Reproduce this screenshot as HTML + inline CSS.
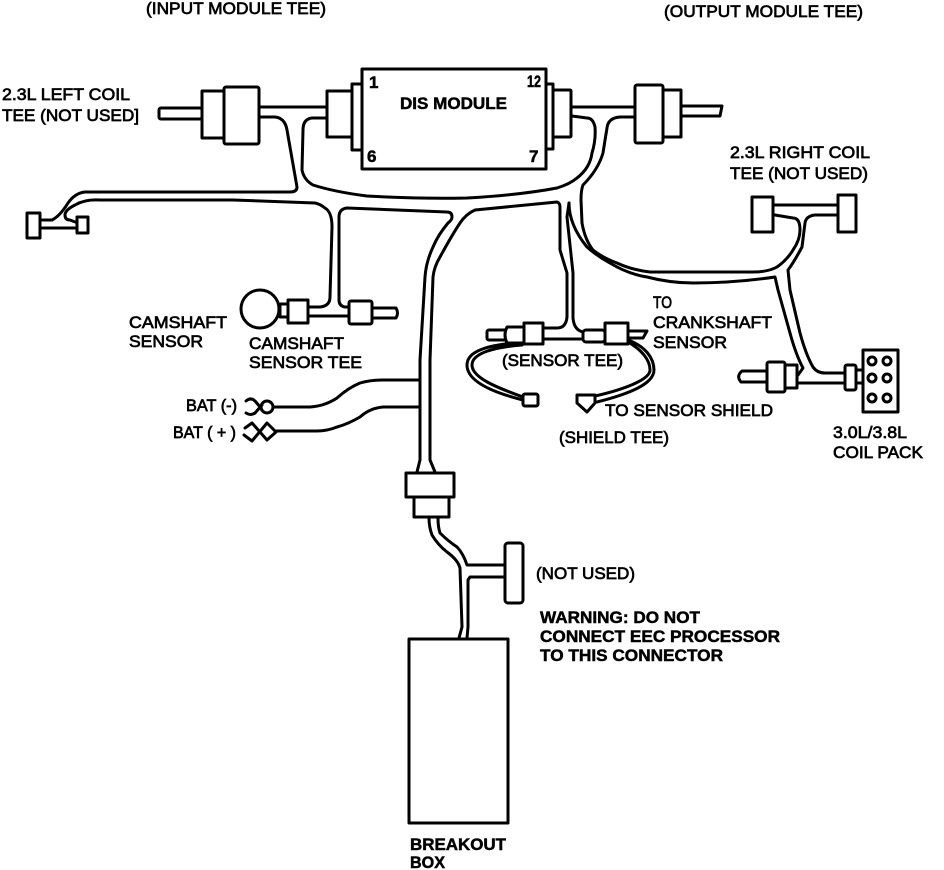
<!DOCTYPE html>
<html><head><meta charset="utf-8"><style>
html,body{margin:0;padding:0;background:#fff}
svg{display:block}
text{font-family:"Liberation Sans",Arial,sans-serif;font-size:17px;fill:#000;stroke:#000;stroke-width:.7}
text.b{font-weight:bold;stroke-width:.5}
.l{fill:none;stroke:#000;stroke-width:3;stroke-linejoin:round;stroke-linecap:round}
.s{fill:#fff;stroke:#000;stroke-width:3;stroke-linejoin:round}
</style></head><body>
<svg width="944" height="870" viewBox="0 0 944 870" xmlns="http://www.w3.org/2000/svg">
<!-- wires -->
<g class="l">
<path d="M259 107H327M259 117H275Q285 118 287 130L297 187Q297 192 290 192H85Q75 193 68 203Q60 216 52 220H40"/>
<path d="M327 118H312Q303 119 303 130L302 170Q304 180 313 185Q335 192 367 196Q420 199 467 198Q520 195 557 188Q570 184 577 178Q590 168 592 153Q596 140 595 127Q593 118 587 118L572 116"/>
<path d="M571 107H635M635 117H620Q608 118 607 128Q605 140 603 153Q598 170 583 185Q581 190 581 200L582 223Q585 240 593 250Q603 258 617 263Q632 270 650 272H753Q768 272 777 267Q787 260 793 250Q800 240 800 230Q800 218 793 218L775 215"/>
<path d="M773 205H838M838 215H815Q806 216 805 223L802 247Q794 262 788 270L790 290L800 333Q806 355 813 367Q817 373 825 373H845"/>
<path d="M569 203Q569 225 587 247Q597 256 610 263Q628 274 647 277Q670 283 693 283Q735 283 775 277L778 290L790 333Q796 355 803 368L798 375H797"/>
<path d="M569 203L567 217L573 273V318Q574 330 583 332"/>
<path d="M797 383H845"/>
<path d="M430 360L433 277Q434 267 440 257Q452 235 460 223Q466 214 475 210L557 202Q560 203 560 207V250L567 273V317Q566 328 557 328H543"/>
<path d="M543 339H583"/>
<path d="M308 307H320Q330 306 330 297L332 227Q332 212 325 208Q320 204 315 203L233 200H100Q85 199 75 205Q65 210 65 215Q65 220 70 220L78 223"/>
<path d="M308 316H349M349 307H345Q339 306 339 300V217Q339 209 347 208L447 212Q452 212 452 217Q452 220 448 223Q438 235 433 247Q426 262 425 277L420 360V460L417 472"/>
<path d="M430 360V460L435 472"/>
<path d="M420 380H383Q370 380 360 383Q348 388 337 398Q325 406 310 407H273"/>
<path d="M420 407H383Q370 408 360 417Q348 424 337 427Q327 431 317 431H275"/>
<path d="M429 518Q429 527 432 535Q438 545 447 552Q458 560 460 568L462 627L459 638"/>
<path d="M438 518Q438 527 440 533Q448 541 457 547Q463 553 467 565H505M505 577H470L468 580V627L467 638"/>
<path d="M40 228H77"/>
<path d="M522 342C490 345 467 350 467 365C467 382 495 393 523 400M522 345C495 347 472 353 472 365C472 378 498 388 523 397"/>
<path d="M628 340C645 346 654 358 654 370C654 385 625 395 597 402M628 342C642 350 650 360 650 370C650 380 622 390 595 396"/>
</g>
<!-- module -->
<rect class="s" x="362" y="69" width="184" height="100"/>
<rect class="s" x="352" y="84" width="10" height="66"/>
<rect class="s" x="327" y="91" width="25" height="46"/>
<rect class="s" x="546" y="84" width="7" height="65"/>
<rect class="s" x="553" y="90" width="18" height="47" rx="1"/>
<!-- left tee -->
<rect class="s" x="159" y="108" width="43" height="11" rx="2"/>
<rect class="s" x="202" y="91" width="22" height="47"/>
<rect class="s" x="224" y="87" width="35" height="57" rx="2"/>
<!-- right tee -->
<path class="s" d="M681 106H722L720 116H681Z"/>
<rect class="s" x="663" y="90" width="18" height="47"/>
<rect class="s" x="635" y="85" width="28" height="58" rx="2"/>
<!-- left coil tee -->
<rect class="s" x="27" y="213" width="13" height="25"/>
<rect class="s" x="77" y="217" width="11" height="16"/>
<!-- right coil tee -->
<rect class="s" x="752" y="197" width="21" height="35"/>
<rect class="s" x="838" y="195" width="18" height="37"/>
<!-- camshaft -->
<circle class="s" cx="260" cy="309" r="19"/>
<rect class="s" x="280" y="304" width="9" height="13"/>
<rect class="s" x="288" y="300" width="20" height="23"/>
<rect class="s" x="349" y="301" width="23" height="23" rx="2"/>
<path class="s" d="M372 308H396Q399 313 396 318H372Z"/>
<!-- sensor tee -->
<rect class="s" x="487" y="330" width="20" height="10" rx="2"/>
<path class="s" d="M507 327H524V343H507Q503 335 507 327Z"/>
<rect class="s" x="524" y="323" width="19" height="21"/>
<rect class="s" x="583" y="330" width="22" height="12" rx="3"/>
<rect class="s" x="605" y="323" width="23" height="21"/>
<path class="s" d="M628 331H647L643 338H628Z"/>
<rect class="s" x="523" y="394" width="15" height="12" rx="2"/>
<path class="s" d="M577 395H595V403L587 412L577 403Z"/>
<!-- coil pack -->
<rect class="s" x="863" y="350" width="35" height="62"/>
<g class="l"><circle cx="872" cy="361" r="4"/><circle cx="887" cy="361" r="4"/><circle cx="872" cy="378" r="4"/><circle cx="887" cy="378" r="4"/><circle cx="872" cy="398" r="4"/><circle cx="887" cy="398" r="4"/></g>
<rect class="s" x="856" y="370" width="7" height="13"/>
<rect class="s" x="845" y="365" width="11" height="25" rx="2"/>
<path class="s" d="M767 371H742Q736 376 741 382H767Z"/>
<rect class="s" x="767" y="362" width="18" height="30" rx="2"/>
<rect class="s" x="785" y="365" width="12" height="23"/>
<!-- BAT symbols -->
<g class="l">
<circle cx="267" cy="407" r="6"/>
<path d="M246 401Q251 397 255 401L261 408M246 413Q251 416 255 413L262 405"/>
<path d="M245 428L252 423L267 440L276 432L267 423L252 441L244 435"/>
</g>
<!-- breakout connector -->
<rect class="s" x="406" y="473" width="48" height="24"/>
<rect class="s" x="414" y="497" width="35" height="20"/>
<rect class="s" x="505" y="543" width="18" height="60" rx="3"/>
<rect class="s" x="409" y="639" width="99" height="184"/>
<!-- labels -->
<g>
<text x="146" y="14" textLength="180" lengthAdjust="spacingAndGlyphs">(INPUT MODULE TEE)</text>
<text x="664" y="17" textLength="199" lengthAdjust="spacingAndGlyphs">(OUTPUT MODULE TEE)</text>
<text x="2" y="100" textLength="128" lengthAdjust="spacingAndGlyphs">2.3L LEFT COIL</text>
<text x="2" y="121" textLength="137" lengthAdjust="spacingAndGlyphs">TEE (NOT USED]</text>
<text class="b" x="369" y="88">1</text>
<text class="b" x="367" y="162">6</text>
<text class="b" x="400" y="109" textLength="107" lengthAdjust="spacingAndGlyphs">DIS MODULE</text>
<text class="b" x="527" y="87" textLength="14" lengthAdjust="spacingAndGlyphs">12</text>
<text class="b" x="529" y="162">7</text>
<text x="730" y="158" textLength="140" lengthAdjust="spacingAndGlyphs">2.3L RIGHT COIL</text>
<text x="730" y="179" textLength="138" lengthAdjust="spacingAndGlyphs">TEE (NOT USED)</text>
<text x="129" y="328" textLength="98" lengthAdjust="spacingAndGlyphs">CAMSHAFT</text>
<text x="129" y="347" textLength="74" lengthAdjust="spacingAndGlyphs">SENSOR</text>
<text x="249" y="349" textLength="95" lengthAdjust="spacingAndGlyphs">CAMSHAFT</text>
<text x="249" y="368" textLength="113" lengthAdjust="spacingAndGlyphs">SENSOR TEE</text>
<text x="653" y="308" textLength="19" lengthAdjust="spacingAndGlyphs">TO</text>
<text x="653" y="328" textLength="119" lengthAdjust="spacingAndGlyphs">CRANKSHAFT</text>
<text x="653" y="348" textLength="74" lengthAdjust="spacingAndGlyphs">SENSOR</text>
<text x="502" y="366" textLength="121" lengthAdjust="spacingAndGlyphs">(SENSOR TEE)</text>
<text x="605" y="416" textLength="168" lengthAdjust="spacingAndGlyphs">TO SENSOR SHIELD</text>
<text x="559" y="443" textLength="110" lengthAdjust="spacingAndGlyphs">(SHIELD TEE)</text>
<text x="833" y="438" textLength="74" lengthAdjust="spacingAndGlyphs">3.0L/3.8L</text>
<text x="833" y="458" textLength="90" lengthAdjust="spacingAndGlyphs">COIL PACK</text>
<text x="186" y="411" textLength="51" lengthAdjust="spacingAndGlyphs">BAT (-)</text>
<text x="173" y="438" textLength="63" lengthAdjust="spacingAndGlyphs">BAT ( + )</text>
<text x="536" y="579" textLength="99" lengthAdjust="spacingAndGlyphs">(NOT USED)</text>
<text class="b" x="540" y="623" textLength="160" lengthAdjust="spacingAndGlyphs">WARNING: DO NOT</text>
<text class="b" x="540" y="642" textLength="240" lengthAdjust="spacingAndGlyphs">CONNECT EEC PROCESSOR</text>
<text class="b" x="540" y="661" textLength="183" lengthAdjust="spacingAndGlyphs">TO THIS CONNECTOR</text>
<text class="b" x="410" y="850" textLength="96" lengthAdjust="spacingAndGlyphs">BREAKOUT</text>
<text class="b" x="410" y="868" textLength="35" lengthAdjust="spacingAndGlyphs">BOX</text>
</g>
</svg>
</body></html>
